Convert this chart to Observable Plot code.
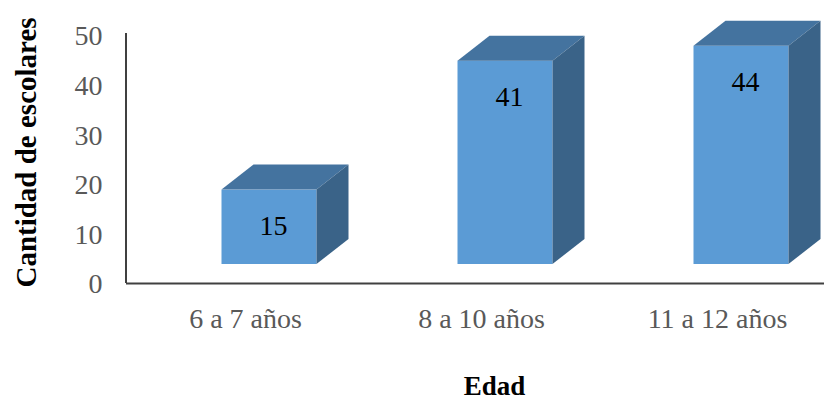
<!DOCTYPE html>
<html>
<head>
<meta charset="utf-8">
<script src="https://cdn.jsdelivr.net/npm/d3@7"></script>
<script src="https://cdn.jsdelivr.net/npm/@observablehq/plot@0.6"></script>
<style>
  body { margin: 0; background: #fff; }
  svg { display: block; }
</style>
</head>
<body>
<div id="chart"></div>
<script>
// Schoolchildren counted per age group
const categories = ["6 a 7 años", "8 a 10 años", "11 a 12 años"];
const escolares = [15, 41, 44];
const yTicks = [0, 10, 20, 30, 40, 50];
const xTitle = "Edad";
const yTitle = "Cantidad de escolares";

const data = categories.map((edad, i) => ({edad, n: escolares[i]}));

// 3D column look: front face shifted off the band centre, with a projected depth
const inset = 70.5, shift = 24, lift = 20, depthX = 32, depthY = 25;
const serif = "'Liberation Serif', 'Times New Roman', Times, serif";
const frontColor = "#5B9BD5", topColor = "#44739F", sideColor = "#3A6388";

// top and right faces of each column, placed with the plot's scales
function faces(index, {x, y}) {
  const g = d3.create("svg:g");
  const step = x(categories[1]) - x(categories[0]);
  for (const d of data) {
    const xl = x(d.edad) + inset + shift;
    const xr = x(d.edad) + step - inset + shift;
    const yt = y(d.n) - lift;
    const yb = y(0) - lift;
    g.append("polygon")
      .attr("points", [[xl, yt], [xr, yt], [xr + depthX, yt - depthY], [xl + depthX, yt - depthY]].join(" "))
      .attr("fill", topColor);
    g.append("polygon")
      .attr("points", [[xr, yt], [xr + depthX, yt - depthY], [xr + depthX, yb - depthY], [xr, yb]].join(" "))
      .attr("fill", sideColor);
  }
  return g.node();
}

// left axis line
function yAxisLine(index, {y}, values, dimensions) {
  const x0 = dimensions.marginLeft;
  return d3.create("svg:line")
    .attr("x1", x0).attr("x2", x0)
    .attr("y1", y(0) - 1).attr("y2", y(50) - 3)
    .attr("stroke", "#404040").attr("stroke-width", 2)
    .node();
}

const chart = Plot.plot({
  width: 824,
  height: 401,
  marginLeft: 126,
  marginRight: 0,
  marginTop: 36,
  marginBottom: 117,
  style: {fontFamily: serif, background: "#fff"},
  x: {type: "band", domain: categories, range: [126, 835], padding: 0},
  y: {domain: [0, 50]},
  marks: [
    Plot.axisY(yTicks, {tickSize: 0, tickPadding: 24, fontSize: 28, fill: "#595959", label: null}),
    Plot.axisX({tickSize: 0, tickPadding: 24, fontSize: 28, fill: "#595959", label: null}),
    Plot.barY(data, {x: "edad", y: "n", fill: frontColor, insetLeft: inset, insetRight: inset, dx: shift, dy: -lift}),
    faces,
    Plot.text(data, {x: "edad", y: "n", text: d => String(d.n), dx: shift + 4, dy: 16, fontSize: 28, fill: "#000", lineAnchor: "middle"}),
    Plot.ruleY([0], {stroke: "#404040", strokeWidth: 2, dy: -1}),
    yAxisLine,
    Plot.text([xTitle], {frameAnchor: "bottom", text: d => d, dx: 19, dy: 110, fontSize: 27, fontWeight: "bold", fill: "#000", lineAnchor: "bottom"}),
    Plot.text([yTitle], {frameAnchor: "left", text: d => d, rotate: -90, dx: -100, dy: -8, fontSize: 29, fontWeight: "bold", fill: "#000", textAnchor: "middle", lineAnchor: "middle"})
  ]
});

document.getElementById("chart").appendChild(chart);
</script>
</body>
</html>
